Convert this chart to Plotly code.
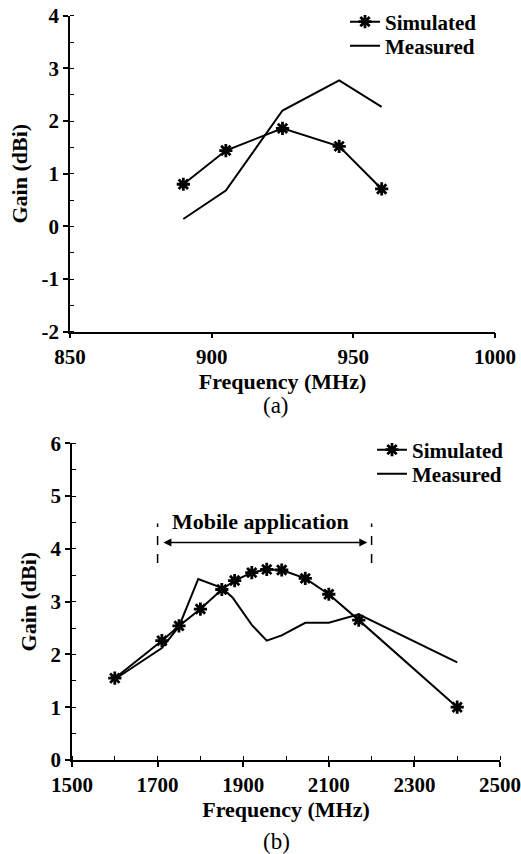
import plotly.graph_objects as go

# (a) 850-1000 MHz band
freq_a = [890, 905, 925, 945, 960]
sim_a = [0.80, 1.44, 1.86, 1.52, 0.71]
meas_a = [0.14, 0.68, 2.20, 2.77, 2.27]

# (b) 1500-2500 MHz band
freq_b_sim = [1600, 1710, 1750, 1800, 1850, 1880, 1920, 1955, 1990, 2045, 2100, 2170, 2400]
sim_b = [1.55, 2.26, 2.54, 2.86, 3.23, 3.40, 3.55, 3.61, 3.60, 3.44, 3.14, 2.65, 1.00]
freq_b_meas = [1600, 1710, 1750, 1795, 1850, 1875, 1920, 1955, 1990, 2045, 2100, 2170, 2400]
meas_b = [1.53, 2.12, 2.53, 3.43, 3.26, 3.08, 2.56, 2.26, 2.36, 2.60, 2.60, 2.76, 1.85]

yticks_a = [-2, -1, 0, 1, 2, 3, 4]
yticks_b = [0, 1, 2, 3, 4, 5, 6]
xticks_a = [850, 900, 950, 1000]
xticks_b = [1500, 1700, 1900, 2100, 2300, 2500]

mobile_band = [1700, 2200]
mobile_label = "Mobile application"

SERIF = "Liberation Serif"
TICK = dict(family=SERIF, size=21, color="black", weight="bold")
BOLD = dict(family=SERIF, size=22, color="black", weight="bold")
LEGF = dict(family=SERIF, size=21, color="black", weight="bold")

H = 854.0
W = 521.0

star = dict(symbol="asterisk-open", size=11, color="black", line=dict(color="black", width=2.8))

fig = go.Figure()
fig.add_trace(go.Scatter(x=freq_a, y=sim_a, mode="lines+markers", name="Simulated",
                         line=dict(color="black", width=2), marker=star,
                         xaxis="x", yaxis="y", legend="legend"))
fig.add_trace(go.Scatter(x=freq_a, y=meas_a, mode="lines", name="Measured",
                         line=dict(color="black", width=2),
                         xaxis="x", yaxis="y", legend="legend2"))
fig.add_trace(go.Scatter(x=freq_b_sim, y=sim_b, mode="lines+markers", name="Simulated",
                         line=dict(color="black", width=2), marker=star,
                         xaxis="x2", yaxis="y2", legend="legend3"))
fig.add_trace(go.Scatter(x=freq_b_meas, y=meas_b, mode="lines", name="Measured",
                         line=dict(color="black", width=2),
                         xaxis="x2", yaxis="y2", legend="legend4"))


def ax_common():
    return dict(showgrid=False, zeroline=False, showline=True, linecolor="black", linewidth=1.5,
                ticks="outside", ticklen=5, tickwidth=1.5, tickcolor="black",
                tickfont=TICK, title_font=BOLD, automargin=False)


def lab(v):
    return str(v).replace("\u2212", "-")


minor_y = dict(dtick=0.5, ticks="inside", ticklen=4, tickcolor="black", tickwidth=1.2)

xa = ax_common()
xa.update(domain=[70 / W, 495 / W], range=[850, 1000], tickvals=xticks_a,
          ticktext=[lab(v) for v in xticks_a],
          anchor="y", title=dict(text="Frequency (MHz)", standoff=0))
ya = ax_common()
ya.update(domain=[1 - 331.7 / H, 1 - 15.7 / H], range=[-2, 4], tickvals=yticks_a,
          ticktext=[lab(v) for v in yticks_a], anchor="x", minor=minor_y,
          title=dict(text="Gain (dBi)", standoff=8))
xb = ax_common()
xb.update(domain=[72 / W, 500 / W], range=[1500, 2500], tickvals=xticks_b,
          ticktext=[lab(v) for v in xticks_b], anchor="y2",
          minor=dict(dtick=100, ticks="inside", ticklen=4, tickcolor="black", tickwidth=1.2),
          title=dict(text="Frequency (MHz)", standoff=0))
yb = ax_common()
yb.update(domain=[1 - 760 / H, 1 - 443.3 / H], range=[0, 6], tickvals=yticks_b,
          ticktext=[lab(v) for v in yticks_b], anchor="x2", minor=minor_y,
          title=dict(text="Gain (dBi)", standoff=8))

leg = dict(font=LEGF, bgcolor="rgba(0,0,0,0)", borderwidth=0, tracegroupgap=0,
           itemwidth=30, xanchor="left", yanchor="middle")

fig.update_layout(
    width=521, height=854, margin=dict(l=0, r=0, t=0, b=0, autoexpand=False),
    paper_bgcolor="white", plot_bgcolor="white", showlegend=True,
    xaxis=xa, yaxis=ya, xaxis2=xb, yaxis2=yb,
    legend=dict(x=345 / W, y=1 - 22 / H, **leg),
    legend2=dict(x=345 / W, y=1 - 46 / H, **leg),
    legend3=dict(x=372 / W, y=1 - 450 / H, **leg),
    legend4=dict(x=372 / W, y=1 - 474 / H, **leg),
)

# Mobile application band marker
for xv in mobile_band:
    fig.add_shape(type="line", xref="x2", yref="y2", x0=xv, x1=xv, y0=3.73, y1=4.48,
                  line=dict(color="black", width=1.5, dash="dash"))
fig.add_annotation(xref="x2", yref="y2", axref="x2", ayref="y2",
                   x=mobile_band[1] - 10, y=4.12, ax=mobile_band[0] + 10, ay=4.12,
                   text="", showarrow=True, arrowhead=2, arrowside="end+start",
                   arrowsize=1, arrowwidth=1.6, arrowcolor="black")
fig.add_annotation(xref="x2", yref="y2", x=sum(mobile_band) / 2 - 10, y=4.52, text=mobile_label,
                   showarrow=False, font=BOLD)

# panel labels
fig.add_annotation(xref="paper", yref="paper", x=276 / W, y=1 - 405 / H, text="(a)",
                   showarrow=False, xanchor="center", yanchor="middle",
                   font=dict(family=SERIF, size=23, color="black"))
fig.add_annotation(xref="paper", yref="paper", x=276 / W, y=1 - 841 / H, text="(b)",
                   showarrow=False, xanchor="center", yanchor="middle",
                   font=dict(family=SERIF, size=23, color="black"))

fig.write_html("out.html")
